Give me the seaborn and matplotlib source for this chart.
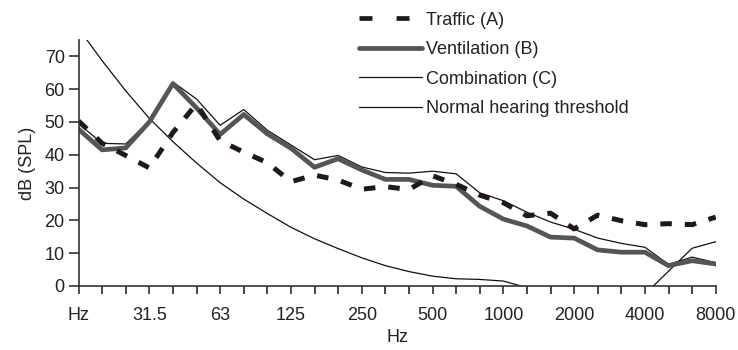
import matplotlib
matplotlib.use("Agg")
from matplotlib import pyplot as plt
from matplotlib.lines import Line2D
import numpy as np
import pandas as pd
import seaborn as sns

# Bandas de terço de oitava (16 Hz .. 8 kHz)
bands = ["16", "20", "25", "31.5", "40", "50", "63", "80", "100", "125",
         "160", "200", "250", "315", "400", "500", "630", "800", "1000",
         "1250", "1600", "2000", "2500", "3150", "4000", "5000", "6300", "8000"]
tick_labels = ["Hz", "31.5", "63", "125", "250", "500", "1000", "2000", "4000", "8000"]

traffic = [50.3, 43.5, 39.8, 36.0, 46.8, 55.5, 44.3, 40.8, 37.6, 31.8,
           33.8, 32.3, 29.5, 30.3, 29.4, 33.6, 31.0, 27.7, 25.4, 21.4,
           22.2, 17.4, 21.6, 19.9, 18.7, 19.0, 18.7, 21.0]
ventilation = [47.8, 41.5, 42.1, 50.0, 61.7, 54.3, 46.2, 52.3, 46.4, 42.0,
               36.2, 38.8, 35.4, 32.5, 32.5, 30.7, 30.4, 24.3, 20.4, 18.3,
               14.9, 14.6, 11.0, 10.3, 10.3, 6.2, 7.7, 6.7]
combination = [49.5, 43.5, 43.3, 50.3, 62.2, 57.0, 49.0, 53.8, 47.5, 43.0,
               38.5, 39.8, 36.3, 34.6, 34.4, 35.0, 34.2, 28.4, 26.0, 22.5,
               19.5, 17.3, 14.6, 13.0, 11.8, 6.6, 8.8, 7.1]
threshold = [78.5, 68.7, 59.5, 51.1, 44.0, 37.5, 31.5, 26.5, 22.1, 17.9,
             14.4, 11.4, 8.6, 6.2, 4.4, 3.0, 2.2, 2.0, 1.5, -0.5,
             -3.0, -6.0, -8.0, -7.0, -2.5, 4.5, 11.5, 13.5]

df = pd.DataFrame({
    "pos": np.arange(len(bands)),
    "band": bands,
    "traffic": traffic,
    "ventilation": ventilation,
    "combination": combination,
    "threshold": threshold,
})

sns.set_theme(style="ticks")
plt.rcParams["font.family"] = ["Liberation Sans", "DejaVu Sans"]

fig = plt.figure(figsize=(7.38, 3.5), dpi=100)
ax = fig.add_axes([0.1064, 0.1829, 0.8634, 0.7028])

sns.lineplot(data=df, x="pos", y="threshold", ax=ax, color="#111111", lw=0.9)
sns.lineplot(data=df, x="pos", y="combination", ax=ax, color="#111111", lw=0.9)
sns.lineplot(data=df, x="pos", y="ventilation", ax=ax, color="#555555", lw=3.4)
sns.lineplot(data=df, x="pos", y="traffic", ax=ax, color="#1e1a1a", lw=3.6,
             linestyle=(0, (2.3, 2.6)), dash_capstyle="butt")

ax.set_xlim(0, len(bands) - 1)
ax.set_ylim(0, 75)
ax.set_xticks(df["pos"][::3])
ax.set_xticklabels(tick_labels)
ax.set_xticks(df["pos"], minor=True)
ax.set_yticks(range(0, 71, 10))
ax.tick_params(axis="both", labelsize=13, colors="#333333", labelcolor="#222222")
ax.tick_params(axis="x", which="both", length=6, width=1.2, pad=9)
ax.tick_params(axis="y", length=7, width=1.2, pad=3)
for s in ["left", "bottom"]:
    ax.spines[s].set_color("#333333")
    ax.spines[s].set_linewidth(1.2)
sns.despine(ax=ax)

ax.set_xlabel("Hz", fontsize=13, color="#222222", labelpad=4)
ax.set_ylabel("dB (SPL)", fontsize=13, color="#222222", labelpad=6)

handles = [
    Line2D([], [], color="#1e1a1a", lw=3.4, linestyle=(0, (2.75, 5.1)), dash_capstyle="butt"),
    Line2D([], [], color="#555555", lw=3.4),
    Line2D([], [], color="#111111", lw=0.9),
    Line2D([], [], color="#111111", lw=0.9),
]
labels = ["Traffic (A)", "Ventilation (B)", "Combination (C)", "Normal hearing threshold"]
fig.legend(handles, labels, loc="upper left", bbox_to_anchor=(0.482, 0.977),
           frameon=False, fontsize=13, handlelength=3.45, handletextpad=0.25,
           borderpad=0.2, borderaxespad=0, labelspacing=0.69, labelcolor="#222222")

fig.savefig("out.png", dpi=100)
